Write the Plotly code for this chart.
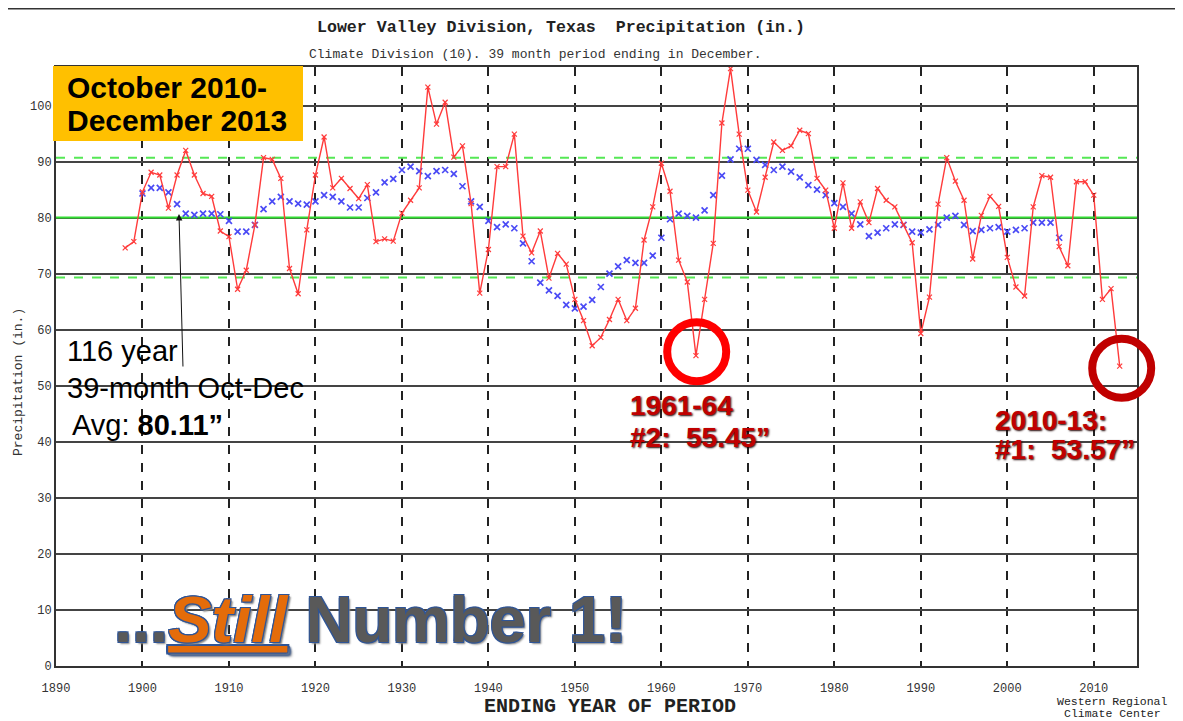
import plotly.graph_objects as go

# ---------------- data ----------------
years_red = list(range(1898, 2014))
precip_39mo = [
    74.7, 75.8, 84.7, 88.2, 87.7, 81.8, 87.7, 92.1, 87.7, 84.4,
    83.9, 77.7, 76.7, 67.3, 70.7, 78.8, 90.8, 90.5, 87.1, 71.0,
    66.5, 77.9, 87.7, 94.5, 85.4, 87.1, 85.3, 83.5, 86.0, 75.8,
    76.3, 75.9, 80.9, 83.2, 85.4, 103.4, 96.8, 100.7, 90.9, 92.9,
    82.6, 66.6, 74.4, 89.2, 89.2, 95.0, 76.8, 73.8, 77.7, 69.3,
    73.7, 71.8, 65.5, 61.7, 57.2, 58.7, 61.9, 65.5, 61.7, 63.9,
    76.1, 82.0, 89.8, 84.8, 72.5, 68.6, 55.45, 65.5, 75.5, 97.0,
    106.7, 95.0, 85.0, 81.1, 87.3, 93.6, 92.1, 92.9, 95.7, 95.1,
    87.1, 85.0, 78.2, 86.3, 78.2, 82.9, 79.2, 85.3, 83.2, 82.0,
    78.8, 75.6, 59.4, 65.9, 82.5, 90.8, 86.6, 83.2, 72.7, 80.5,
    83.9, 82.1, 73.0, 67.7, 66.1, 82.0, 87.6, 87.3, 74.9, 71.5,
    86.5, 86.5, 84.1, 65.5, 67.4, 53.57,
]

years_blue = list(range(1900, 2007))
smoothed = [
    84.4, 85.4, 85.4, 84.6, 82.5, 80.8, 80.6, 80.8, 80.8, 80.7,
    79.5, 77.6, 77.6, 78.8, 81.6, 83.0, 83.8, 83.0, 82.6, 82.4,
    83.0, 84.1, 83.8, 83.0, 81.9, 81.9, 83.6, 84.6, 86.4, 87.0,
    88.6, 89.2, 88.4, 87.5, 88.4, 88.6, 87.9, 85.7, 83.0, 82.0,
    79.5, 78.4, 78.9, 78.2, 75.5, 72.3, 68.5, 67.1, 66.1, 64.5,
    63.9, 64.2, 65.4, 67.7, 70.1, 71.4, 72.5, 72.0, 72.0, 73.3,
    76.5, 79.8, 80.8, 80.4, 80.1, 81.4, 84.1, 87.6, 90.5, 92.4,
    92.4, 90.4, 89.5, 88.6, 89.2, 88.3, 87.3, 85.9, 85.1, 84.1,
    82.7, 82.0, 80.8, 78.9, 76.8, 77.4, 78.2, 78.9, 78.8, 77.6,
    77.4, 78.0, 78.8, 80.1, 80.4, 78.8, 77.7, 77.9, 78.2, 78.4,
    77.6, 77.9, 78.2, 79.2, 79.2, 79.2, 76.5,
]

mean_val = 80.11
upper_sd = 90.8
lower_sd = 69.4

x_range = [1890, 2015]
y_range = [0, 107]
x_ticks = list(range(1890, 2011, 10))
y_ticks = list(range(0, 101, 10))

# ---------------- layout helpers (window pixel -> paper) ----------------
W, H = 1183, 721
OFF = 8                      # default page margin around the plot div
PL, PR, PT, PB = 56, 1137, 67, 666   # plot area in window pixels
L = PL - OFF
T = PT - OFF
R = W - (PR - OFF)
B = H - (PB - OFF)
PW, PH = PR - PL, PB - PT


def px(x):
    return (x - PL) / PW


def py(y):
    return (PB - y) / PH


mono = "Liberation Mono, Courier New, monospace"
sans = "Liberation Sans, Arial, sans-serif"

fig = go.Figure()

# reference lines (mean and +/- 1 sd)
fig.add_trace(go.Scatter(x=x_range, y=[mean_val, mean_val], mode="lines",
                         line=dict(color="#33DD33", width=2), hoverinfo="skip",
                         showlegend=False))
for v in (upper_sd, lower_sd):
    fig.add_trace(go.Scatter(x=x_range, y=[v, v], mode="lines",
                             line=dict(color="#55E855", width=2, dash="dash"),
                             hoverinfo="skip", showlegend=False))

fig.add_trace(go.Scatter(
    x=years_blue, y=smoothed, mode="markers",
    marker=dict(symbol="x-thin", size=6, line=dict(color="#4A4AF5", width=1.7)),
    showlegend=False))

fig.add_trace(go.Scatter(
    x=years_red, y=precip_39mo, mode="lines+markers",
    line=dict(color="#FF3B3B", width=1.4),
    marker=dict(symbol="x-thin", size=5, line=dict(color="#FF3B3B", width=1.2)),
    showlegend=False))

fig.update_xaxes(
    range=x_range, tickmode="array", tickvals=x_ticks,
    ticks="", showline=True, mirror=True, linecolor="#333333", linewidth=2,
    showgrid=True, gridcolor="#222222", gridwidth=1.5, griddash="dash",
    zeroline=False, ticklabelstandoff=10,
    tickfont=dict(family=mono, size=12, color="#333333"),
)
fig.update_yaxes(
    range=y_range, tickmode="array", tickvals=y_ticks,
    ticks="", showline=True, mirror=True, linecolor="#333333", linewidth=2,
    showgrid=True, gridcolor="#444444", gridwidth=1.5,
    zeroline=False,
    tickfont=dict(family=mono, size=12, color="#333333"),
)

annotations = []
shapes = []


def note(text, x, y, font, xanchor="center", **kw):
    d = dict(text=text, x=px(x), y=py(y), xref="paper", yref="paper",
             xanchor=xanchor, yanchor="middle", showarrow=False, font=font)
    d.update(kw)
    annotations.append(d)


# top rule (at the very top edge of the figure)
shapes.append(dict(type="line", xref="paper", yref="paper",
                   x0=px(2), x1=px(1200), y0=py(OFF), y1=py(OFF),
                   line=dict(color="#333333", width=3)))

# titles
note("<b>Lower Valley Division, Texas  Precipitation (in.)</b>", 561, 27,
     dict(family=mono, size=16.6, color="#222222"))
note("Climate Division (10). 39 month period ending in December.", 535, 54,
     dict(family=mono, size=13, color="#333333"))
note("<b>ENDING YEAR OF PERIOD</b>", 610, 706,
     dict(family=mono, size=20, color="#222222"))
note("Precipitation (in.)", 18, 382,
     dict(family=mono, size=13, color="#333333"), textangle=-90)
note("Western Regional", 1112, 701,
     dict(family=mono, size=11.5, color="#222222"))
note("Climate Center", 1112, 713,
     dict(family=mono, size=11.5, color="#222222"))

# orange box
shapes.append(dict(type="rect", xref="paper", yref="paper",
                   x0=px(53), x1=px(303), y0=py(66), y1=py(141),
                   fillcolor="#FFC000", line=dict(width=0), layer="above"))
for txt, yy in (("October 2010-", 88), ("December 2013", 121)):
    note("<b>" + txt + "</b>", 65, yy,
         dict(family=sans, size=30, color="#000000"), xanchor="left")

# average note
for txt, xx, yy in (("116 year", 65, 351), ("39-month Oct-Dec", 65, 388),
                    ("Avg: <b>80.11\u201d</b>", 70, 425)):
    note(txt, xx, yy, dict(family=sans, size=29, color="#000000"), xanchor="left")
annotations.append(dict(text="", x=px(179), y=py(214), xref="paper", yref="paper",
                        ax=183 - 179, ay=368 - 214, axref="pixel", ayref="pixel",
                        showarrow=True, arrowhead=2, arrowsize=1.3, arrowwidth=1,
                        arrowcolor="#111111"))

# red circles
shapes.append(dict(type="circle", xref="paper", yref="paper",
                   x0=px(696.7 - 29.5), x1=px(696.7 + 29.5),
                   y0=py(351.7 + 29.5), y1=py(351.7 - 29.5),
                   line=dict(color="#FF0000", width=8), layer="above"))
shapes.append(dict(type="circle", xref="paper", yref="paper",
                   x0=px(1121.7 - 29.5), x1=px(1121.7 + 29.5),
                   y0=py(368.3 + 29.5), y1=py(368.3 - 29.5),
                   line=dict(color="#C00000", width=8), layer="above"))

red_font = dict(family=sans, size=28, color="#C00000",
                shadow="1px 1px 2px #200000")
for txt, xx, yy in (("1961-64", 628, 405), ("#2:  55.45\u201d", 628, 437),
                    ("2010-13:", 993, 420), ("#1:  53.57\u201d", 993, 449)):
    note("<b>" + txt + "</b>", xx, yy, red_font, xanchor="left")

# slogan
outline = ("-1px -1px 0 #2F5597, 1px -1px 0 #2F5597, "
           "-1px 1px 0 #2F5597, 1px 1px 0 #2F5597, 2px 2px 2px #888888")
note('<b>...<span style="color:#E46C0A"><i><u>Still</u></i></span> Number 1!</b>',
     112, 619, dict(family=sans, size=65, color="#595959", shadow=outline),
     xanchor="left")

fig.update_layout(
    width=W, height=H, autosize=False,
    margin=dict(l=L, r=R, t=T, b=B),
    paper_bgcolor="white", plot_bgcolor="white",
    annotations=annotations, shapes=shapes,
    showlegend=False,
)

fig.write_html("out.html")
